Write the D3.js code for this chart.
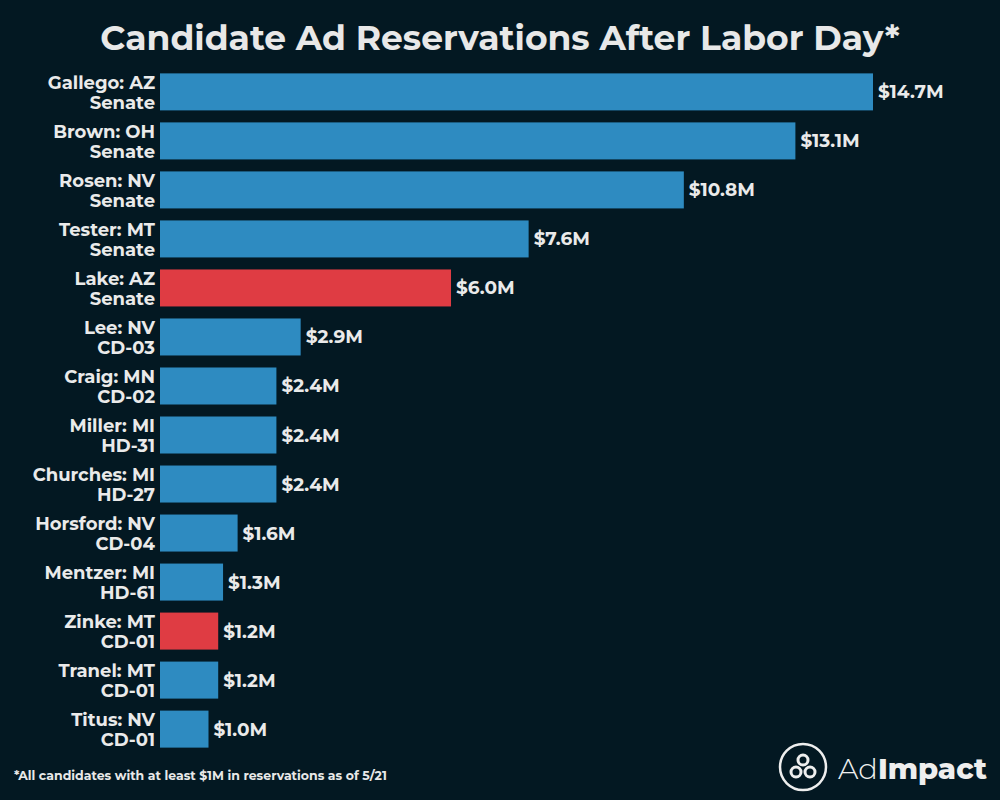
<!DOCTYPE html>
<html><head><meta charset="utf-8">
<script src="https://cdn.jsdelivr.net/npm/d3@7"></script>
<style>body{margin:0;background:#031822;}</style>
</head><body>
<svg id="c" width="1000" height="800"></svg>
<script>
const names = ["Gallego: AZ","Brown: OH","Rosen: NV","Tester: MT","Lake: AZ","Lee: NV","Craig: MN","Miller: MI","Churches: MI","Horsford: NV","Mentzer: MI","Zinke: MT","Tranel: MT","Titus: NV"];
const races = ["Senate","Senate","Senate","Senate","Senate","CD-03","CD-02","HD-31","HD-27","CD-04","HD-61","CD-01","CD-01","CD-01"];
const values = [14.7,13.1,10.8,7.6,6.0,2.9,2.4,2.4,2.4,1.6,1.3,1.2,1.2,1.0];
const parties = ["D","D","D","D","R","D","D","D","D","D","D","R","D","D"];
const labels = ["$14.7M","$13.1M","$10.8M","$7.6M","$6.0M","$2.9M","$2.4M","$2.4M","$2.4M","$1.6M","$1.3M","$1.2M","$1.2M","$1.0M"];

const svg = d3.select("#c");
svg.append("rect").attr("width",1000).attr("height",800).attr("fill","#031822");
const font = "Montserrat, 'Open Sans', Roboto, sans-serif";
svg.append("text").attr("x",500).attr("y",50).attr("text-anchor","middle")
  .attr("fill","#e8e8e8").attr("font-family",font).attr("font-weight",700).attr("font-size",34.5)
  .text("Candidate Ad Reservations After Labor Day*");

const x = d3.scaleLinear().domain([0,14.7]).range([160,873]);
const y = d3.scaleBand().domain(d3.range(names.length)).range([67.5,753.5]).paddingInner(0.245).paddingOuter(0.12);
const g = svg.append("g");
values.forEach((v,i)=>{
  g.append("rect").attr("x",x(0)).attr("y",y(i)).attr("width",x(v)-x(0)).attr("height",y.bandwidth())
   .attr("fill",parties[i]==="R"?"#df3c43":"#2e8bc1");
  g.append("text").attr("x",x(v)+5).attr("y",y(i)+y.bandwidth()/2+6.5)
   .attr("fill","#eaeaea").attr("font-family",font).attr("font-weight",700).attr("font-size",18.5).text(labels[i]);
  [[names[i],-3],[races[i],17]].forEach(([s,dy])=>
    g.append("text").attr("x",155).attr("y",y(i)+y.bandwidth()/2+dy).attr("text-anchor","end").attr("fill","#eaeaea")
     .attr("font-family",font).attr("font-weight",700).attr("font-size",18).text(s));
});
svg.append("text").attr("x",14).attr("y",780).attr("fill","#e8e8e8").attr("font-family",font)
  .attr("font-weight",700).attr("font-size",12.5).text("*All candidates with at least $1M in reservations as of 5/21");
// logo
const lg = svg.append("g").attr("transform","translate(803,767)");
lg.append("circle").attr("r",23).attr("fill","none").attr("stroke","#eee").attr("stroke-width",2.5);
[[0,-7],[-7,5],[7,5]].forEach(p=>lg.append("circle").attr("cx",p[0]).attr("cy",p[1]).attr("r",5).attr("fill","none").attr("stroke","#eee").attr("stroke-width",3));
const lt = svg.append("text").attr("x",838).attr("y",779).attr("fill","#eee").attr("font-family",font).attr("font-size",29);
lt.append("tspan").attr("font-weight",300).text("Ad");
lt.append("tspan").attr("font-weight",800).text("Impact");
</script>
</body></html>
